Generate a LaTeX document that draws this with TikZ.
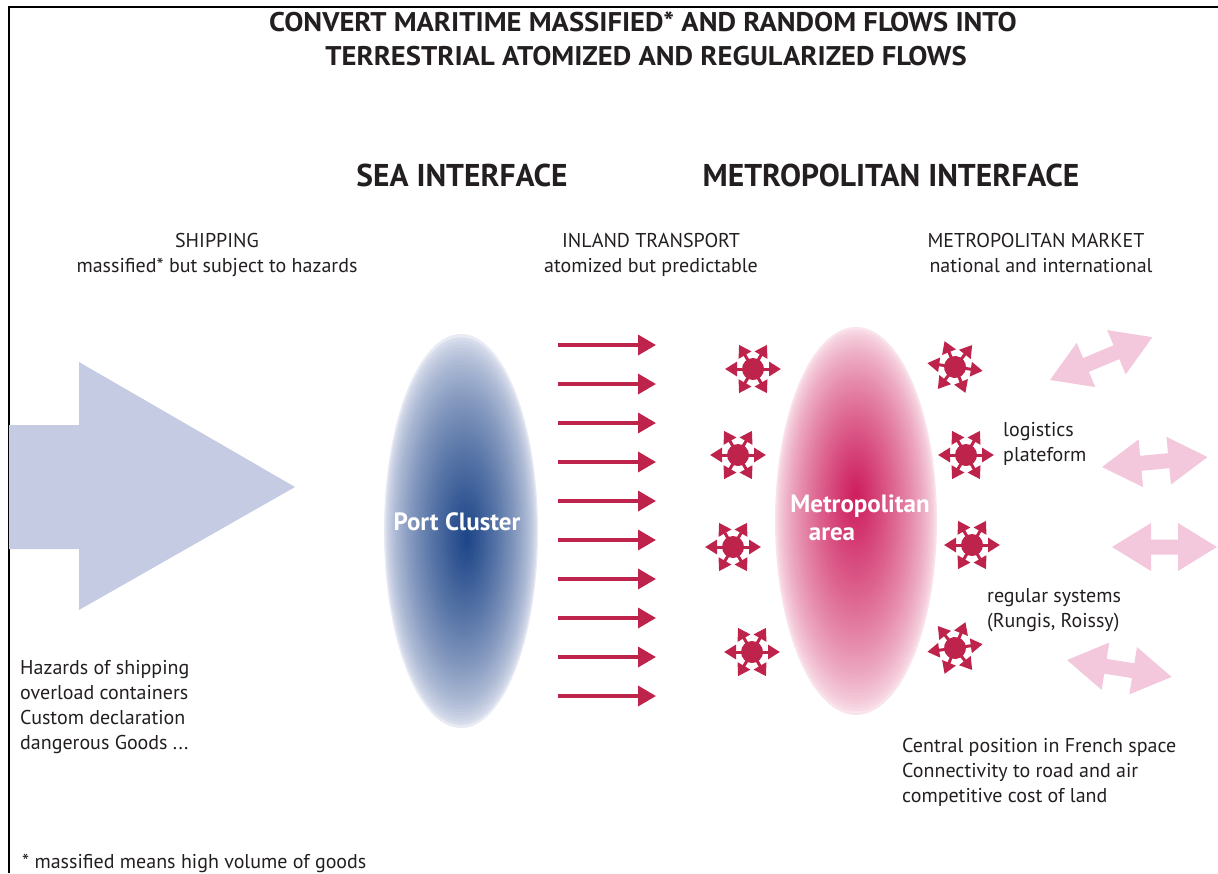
\documentclass[tikz,border=0pt]{standalone}
\usepackage{fontspec}
\setmainfont{PT Sans}
\usetikzlibrary{arrows.meta}
\definecolor{lav}{RGB}{198,203,228}
\definecolor{crim}{RGB}{190,35,75}
\definecolor{pinkarr}{RGB}{243,200,220}
\definecolor{txt}{RGB}{35,31,32}
\definecolor{pdark}{RGB}{28,68,135}
\definecolor{plight}{RGB}{232,234,244}
\definecolor{mdark}{RGB}{205,28,92}
\definecolor{mlight}{RGB}{250,228,236}
\tikzset{
  x=1pt, y=1pt,
  body/.style={font=\fontsize{20}{25}\selectfont, text=txt, inner sep=0pt},
  head/.style={font=\fontsize{31.5}{36}\selectfont\bfseries, text=txt, inner sep=0pt},
  titl/.style={text=txt, inner sep=0pt},
  whitelab/.style={font=\fontsize{25}{28}\selectfont\bfseries, text=white, inner sep=0pt},
  flow/.style={draw=crim, line width=3.5pt, -{Triangle[length=18pt,width=20pt]}},
  pics/burst/.style={code={
    \fill[crim] (0,0) circle (11);
    \foreach \a in {0,60,...,300}
      \draw[crim, line width=3pt, -{Triangle[length=12pt,width=14pt]}] (0,0) -- (\a:28);
  }},
  pics/dblarr/.style={code={
    \fill[pinkarr] (0,0) -- (39,-24) -- (39,-7.5) -- (#1-39,-7.5) -- (#1-39,-24) -- (#1,0)
      -- (#1-39,24) -- (#1-39,7.5) -- (39,7.5) -- (39,24) -- cycle;
  }}
}
\begin{document}
\begin{tikzpicture}
\useasboundingbox (0,0) rectangle (1218,-873);
% frame
\draw[line width=2pt, black] (8.5,-873) -- (8.5,-7) -- (1218,-7);

% title
\node[titl, anchor=base] (t1) at (643,-31)
  {\scalebox{1.06}[1]{\fontsize{27}{30}\selectfont\bfseries CONVERT MARITIME MASSIFIED* AND RANDOM FLOWS INTO}};
\node[titl, anchor=base] (t2) at (646,-65)
  {\scalebox{1.06}[1]{\fontsize{27}{30}\selectfont\bfseries TERRESTRIAL ATOMIZED AND REGULARIZED FLOWS}};

% headings
\node[head, anchor=base] (sea) at (462,-186) {SEA INTERFACE};
\node[head, anchor=base] (metro) at (891,-186) {METROPOLITAN INTERFACE};

\node[body, anchor=base] (ship1) at (217,-247) {SHIPPING};
\node[body, anchor=base] (ship2) at (217,-272) {massified* but subject to hazards};
\node[body, anchor=base] (inl1) at (651,-247) {INLAND TRANSPORT};
\node[body, anchor=base] (inl2) at (651,-272) {atomized but predictable};
\node[body, anchor=base] (mm1) at (1036,-247) {METROPOLITAN MARKET};
\node[body, anchor=base] (mm2) at (1041,-272) {national and international};

% big arrow
\fill[lav] (9,-425) -- (79,-425) -- (79,-362) -- (295,-487) -- (79,-610) -- (79,-549) -- (9,-549) -- cycle;

% ellipses (soft radial gradients built from concentric ellipses)
\foreach \k in {0,...,59} {
  \pgfmathsetmacro\t{1-\k/60}
  \pgfmathsetmacro\p{100*(\k/60)^0.62}
  \pgfmathsetmacro\q{100*(\k/60)^0.7}
  \fill[pdark!\p!plight] ({461+6*\k/60},{-531-8*\k/60}) ellipse ({77*\t} and {197*\t});
  \fill[mdark!\q!mlight] ({856},{-521+26*\k/60}) ellipse ({81*\t} and {194*\t});
}
\node[whitelab, anchor=base] (port) at (457,-530) {Port Cluster};
\node[whitelab, anchor=base] (metarea1) at (860,-512) {Metropolitan};
\node[whitelab, anchor=base] (metarea2) at (832,-540) {area};

% inland flows
\foreach \i in {0,...,9} {
  \coordinate (fa\i) at (558,-345-39*\i);
  \coordinate (fb\i) at (656,-345-39*\i);
  \draw[flow] (fa\i) -- (fb\i);
}

% logistics platforms
\pic at (753,-369) {burst};
\pic at (738,-455) {burst};
\pic at (733,-547) {burst};
\pic at (752,-652) {burst};
\pic[rotate=-8] at (955,-367) {burst};
\pic at (966,-455) {burst};
\pic at (972,-545) {burst};
\pic[rotate=8] at (955,-648) {burst};

% market exchanges
\pic[rotate=22.7] at (1050,-380) {dblarr=111};
\pic[rotate=5.4] at (1102,-467) {dblarr=106};
\pic at (1112,-547) {dblarr=105};
\pic[rotate=-9.2] at (1067,-660) {dblarr=106};

% side texts (base anchor = baseline of last line)
\node[body, anchor=base west, align=left] (logi) at (1003,-461) {logistics\\plateform};
\node[body, anchor=base west, align=left] (reg) at (987,-627) {regular systems\\(Rungis, Roissy)};
\node[body, anchor=base west, align=left] (cent) at (902,-802) {Central position in French space\\Connectivity to road and air\\competitive cost of land};
\node[body, anchor=base west, align=left] (haz) at (20,-749) {Hazards of shipping\\overload containers\\Custom declaration\\dangerous Goods ...};
\node[body, anchor=base west] (foot) at (22,-868) {* massified means high volume of goods};
\end{tikzpicture}
\end{document}
